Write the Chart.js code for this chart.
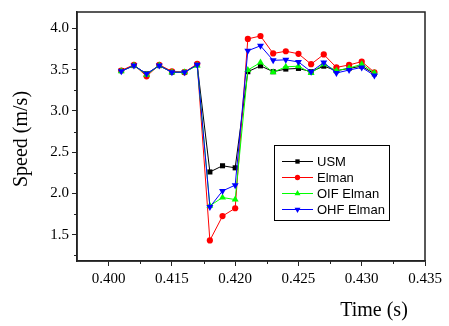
<!DOCTYPE html>
<html>
<head>
<meta charset="utf-8">
<script src="https://cdn.jsdelivr.net/npm/chart.js@4.4.1/dist/chart.umd.min.js"></script>
<style>
  html, body { margin: 0; padding: 0; background: #fff; }
  canvas { display: block; }
</style>
</head>
<body>
<canvas id="grafico" width="449" height="326"></canvas>
<script>
// tempos (s) de cada ponto
const times = [0.411, 0.412, 0.413, 0.414, 0.415, 0.416, 0.417, 0.418, 0.419, 0.420,
  0.421, 0.422, 0.423, 0.424, 0.425, 0.426, 0.427, 0.428, 0.429, 0.430, 0.431];

const usm = [3.49, 3.55, 3.45, 3.55, 3.47, 3.47, 3.56, 2.26, 2.335, 2.31,
  3.476, 3.547, 3.476, 3.508, 3.516, 3.476, 3.543, 3.488, 3.516, 3.543, 3.45];
const elman = [3.49, 3.56, 3.42, 3.56, 3.48, 3.47, 3.57, 1.43, 1.725, 1.82,
  3.874, 3.909, 3.697, 3.724, 3.693, 3.567, 3.685, 3.528, 3.558, 3.598, 3.469];
const oifElman = [3.48, 3.55, 3.44, 3.55, 3.47, 3.47, 3.55, 1.85, 1.95, 1.925,
  3.496, 3.587, 3.469, 3.535, 3.543, 3.46, 3.567, 3.488, 3.52, 3.567, 3.46];
const ohfElman = [3.48, 3.55, 3.45, 3.55, 3.47, 3.47, 3.56, 1.835, 2.03, 2.10,
  3.73, 3.79, 3.614, 3.62, 3.594, 3.476, 3.587, 3.46, 3.496, 3.528, 3.43];

// ticks do eixo x (rótulos como aparecem na figura original)
const xTickValues = [0.410, 0.415, 0.420, 0.425, 0.430, 0.435];
const xTickLabels = ['0.400', '0.415', '0.420', '0.425', '0.430', '0.435'];
const xMinorTicks = [0.4125, 0.4175, 0.4225, 0.4275, 0.4325];
const yTickValues = [1.5, 2.0, 2.5, 3.0, 3.5, 4.0];
const yMinorTicks = [1.25, 1.75, 2.25, 2.75, 3.25, 3.75];

const corEixo = '#222';

const serie = (label, data, cor, estilo, raio, rot, ordem) => ({
  label,
  data: data.map((v, i) => ({ x: times[i], y: v })),
  borderColor: cor,
  backgroundColor: cor,
  borderWidth: 1,
  pointStyle: estilo,
  pointRadius: raio,
  pointRotation: rot,
  pointBorderWidth: 0,
  tension: 0,
  order: ordem
});

const datasets = [
  serie('USM', usm, '#000000', 'rect', 3.6, 0, 3),
  serie('Elman', elman, '#ff0000', 'circle', 3.1, 0, 2),
  serie('OIF Elman', oifElman, '#00ff00', 'triangle', 4, 0, 1),
  serie('OHF Elman', ohfElman, '#0000ff', 'triangle', 4, 180, 0)
];

function marcador(ctx, estilo, x, y, r, rot, cor) {
  ctx.save();
  ctx.fillStyle = cor;
  ctx.beginPath();
  if (estilo === 'rect') {
    const s = r * Math.SQRT1_2;
    ctx.rect(x - s, y - s, 2 * s, 2 * s);
  } else if (estilo === 'circle') {
    ctx.arc(x, y, r, 0, Math.PI * 2);
  } else {
    let a = rot * Math.PI / 180;
    ctx.moveTo(x + Math.sin(a) * r, y - Math.cos(a) * r);
    for (let k = 0; k < 2; k++) {
      a += Math.PI * 2 / 3;
      ctx.lineTo(x + Math.sin(a) * r, y - Math.cos(a) * r);
    }
    ctx.closePath();
  }
  ctx.fill();
  ctx.restore();
}

const extras = {
  id: 'extras',
  afterDraw(chart) {
    const { ctx, chartArea: a, scales } = chart;
    ctx.save();
    // moldura
    ctx.strokeStyle = corEixo;
    ctx.lineWidth = 1.5;
    ctx.strokeRect(a.left, a.top, a.right - a.left, a.bottom - a.top);
    // ticks menores
    ctx.lineWidth = 1;
    ctx.beginPath();
    xMinorTicks.forEach(v => {
      const px = Math.round(scales.x.getPixelForValue(v)) + 0.5;
      ctx.moveTo(px, a.bottom);
      ctx.lineTo(px, a.bottom + 3);
    });
    yMinorTicks.forEach(v => {
      const py = Math.round(scales.y.getPixelForValue(v)) + 0.5;
      ctx.moveTo(a.left, py);
      ctx.lineTo(a.left - 3, py);
    });
    ctx.stroke();
    // títulos dos eixos
    ctx.fillStyle = '#000';
    ctx.font = '20px "Liberation Serif", "Times New Roman", serif';
    ctx.textAlign = 'center';
    ctx.textBaseline = 'middle';
    ctx.fillText('Time (s)', 374, 311);
    ctx.save();
    ctx.translate(22, 139);
    ctx.rotate(-Math.PI / 2);
    ctx.fillText('Speed (m/s)', 0, 0);
    ctx.restore();
    // legenda
    ctx.strokeStyle = '#000';
    ctx.lineWidth = 1;
    ctx.strokeRect(274.5, 145.5, 115, 75);
    ctx.font = '13px "Liberation Sans", Arial, sans-serif';
    ctx.textAlign = 'left';
    datasets.forEach((d, i) => {
      const y = 161.5 + i * 16;
      ctx.strokeStyle = d.borderColor;
      ctx.beginPath();
      ctx.moveTo(282, y);
      ctx.lineTo(313, y);
      ctx.stroke();
      marcador(ctx, d.pointStyle, 297.5, y, d.pointRadius * 0.85, d.pointRotation, d.borderColor);
      ctx.fillStyle = '#000';
      ctx.fillText(d.label, 317, y + 0.5);
    });
    ctx.restore();
  }
};

new Chart(document.getElementById('grafico').getContext('2d'), {
  type: 'line',
  data: { datasets },
  options: {
    responsive: false,
    animation: false,
    layout: { autoPadding: false, padding: { top: 6, right: 24, left: 0, bottom: 0 } },
    plugins: { legend: { display: false }, tooltip: { enabled: false } },
    scales: {
      x: {
        type: 'linear',
        min: 0.4075,
        max: 0.435,
        afterBuildTicks: s => { s.ticks = xTickValues.map(v => ({ value: v })); },
        afterFit: s => { s.height = 65; },
        ticks: {
          color: '#000',
          padding: 4,
          maxRotation: 0,
          font: { family: '"Liberation Serif", "Times New Roman", serif', size: 15 },
          callback: v => xTickLabels[xTickValues.indexOf(v)]
        },
        grid: { drawOnChartArea: false, drawTicks: true, tickLength: 5, color: corEixo },
        border: { display: true, color: corEixo, width: 1.5 }
      },
      y: {
        min: 1.18,
        max: 4.2,
        afterBuildTicks: s => { s.ticks = yTickValues.map(v => ({ value: v })); },
        afterFit: s => { s.width = 77; },
        ticks: {
          color: '#000',
          padding: 3,
          font: { family: '"Liberation Serif", "Times New Roman", serif', size: 15 },
          callback: v => v.toFixed(1)
        },
        grid: { drawOnChartArea: false, drawTicks: true, tickLength: 5, color: corEixo },
        border: { display: true, color: corEixo, width: 1.5 }
      }
    }
  },
  plugins: [extras]
});
</script>
</body>
</html>
